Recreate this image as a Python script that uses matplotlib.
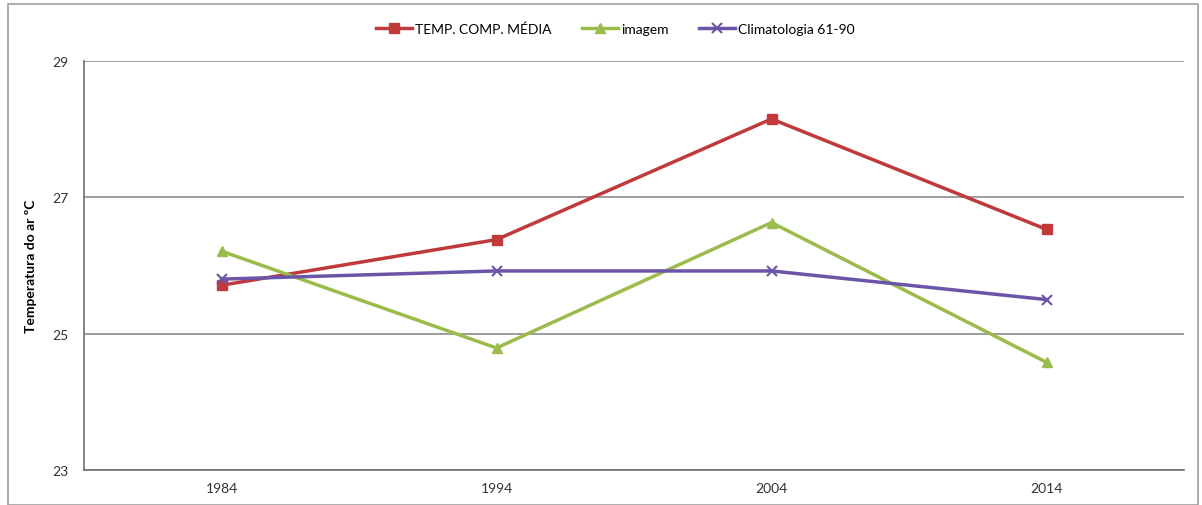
import matplotlib
matplotlib.use("Agg")
import matplotlib.pyplot as plt
from matplotlib.patches import Rectangle

years = ["1984", "1994", "2004", "2014"]
temp_comp_media = [25.71, 26.38, 28.15, 26.53]
imagem = [26.21, 24.79, 26.63, 24.58]
climatologia = [25.80, 25.92, 25.92, 25.50]
y_ticks = [23, 25, 27, 29]

plt.rcParams['font.family'] = ['Lato', 'DejaVu Sans']

fig = plt.figure(figsize=(12.02, 5.06), dpi=100)
fig.patch.set_facecolor('white')
fig.patches.append(Rectangle((8/1202, 0), 1190/1202, 501/506, transform=fig.transFigure,
                             fill=False, edgecolor='#a0a0a0', linewidth=1.2))

ax = fig.add_axes([84/1202, 35/506, 1100/1202, 409/506])
x = list(range(len(years)))
ax.plot(x, temp_comp_media, color='#c0393b', linewidth=2.5, marker='s', markersize=7,
        label='TEMP. COMP. MÉDIA')
ax.plot(x, imagem, color='#9bbb4b', linewidth=2.5, marker='^', markersize=7,
        label='imagem')
ax.plot(x, climatologia, color='#6a55a8', linewidth=2.5, marker='x', markersize=7,
        markeredgewidth=1.5, label='Climatologia 61-90')

ax.set_xlim(-0.5, len(years) - 0.5)
ax.set_ylim(23, 29)
ax.set_yticks(y_ticks)
ax.set_yticklabels([str(t) for t in y_ticks], fontsize=10)
ax.set_xticks(x)
ax.set_xticklabels(years, fontsize=10)
ax.tick_params(axis='both', length=0, colors='#333333', labelcolor='#333333')
ax.tick_params(axis='y', pad=11)
ax.tick_params(axis='x', pad=9)
ax.grid(axis='y', color='#8c8c8c', linewidth=1.2)
ax.set_axisbelow(True)
for s in ['top', 'right']:
    ax.spines[s].set_visible(False)
ax.spines['left'].set_color('#6e6e6e')
ax.spines['bottom'].set_color('#6e6e6e')
ax.spines['left'].set_linewidth(1.2)
ax.spines['bottom'].set_linewidth(1.2)

ax.set_ylabel('Temperatura do ar ºC', fontsize=10, fontweight='bold')
ax.yaxis.set_label_coords(-0.043, 0.50)

ax.legend(loc='upper center', bbox_to_anchor=(0.483, 1.125), ncol=3, frameon=False,
          fontsize=10, handlelength=2.6, handletextpad=0.2, columnspacing=2.2)

fig.savefig('out.png', dpi=100, facecolor='white')
